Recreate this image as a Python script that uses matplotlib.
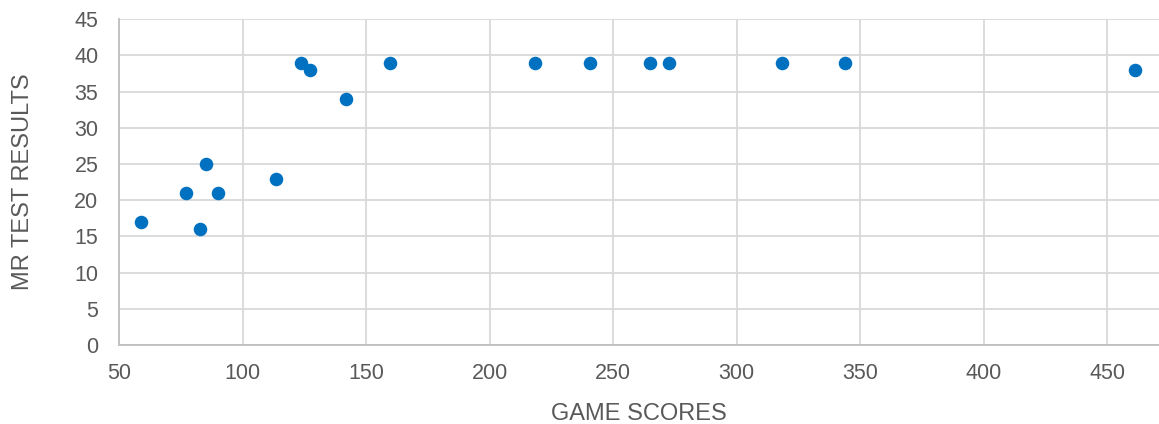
import matplotlib.pyplot as plt

plt.rcParams['font.family'] = ['Liberation Sans', 'DejaVu Sans']

game_scores = [58.7, 76.9, 82.6, 85.1, 89.9, 113.4, 123.7, 127.1, 141.8, 159.5,
               218.4, 240.8, 264.9, 272.6, 318.5, 343.9, 461.1]
mr_results = [17, 21, 16, 25, 21, 23, 39, 38, 34, 39,
              39, 39, 39, 39, 39, 39, 38]

fig = plt.figure(figsize=(11.59, 4.24), dpi=100)
ax = fig.add_axes([0.1029, 0.1863, 0.8971, 0.7682])

ax.scatter(game_scores, mr_results, s=95, color='#0070C0', zorder=3, linewidths=0)

ax.set_xlim(50, 471)
ax.set_ylim(0, 45)
ax.set_xticks(range(50, 451, 50))
ax.set_yticks(range(0, 46, 5))
ax.grid(True, color='#d9d9d9', linewidth=1.3)
ax.set_axisbelow(True)

for s in ['top', 'right']:
    ax.spines[s].set_visible(False)
for s in ['left', 'bottom']:
    ax.spines[s].set_color('#bfbfbf')
    ax.spines[s].set_linewidth(1.3)
ax.tick_params(length=0, labelsize=15.5, colors='#595959')
ax.tick_params(axis='y', pad=15)
ax.tick_params(axis='x', pad=13)

ax.set_xlabel('GAME SCORES', fontsize=17, color='#595959')
ax.set_ylabel('MR TEST RESULTS', fontsize=17, color='#595959')
ax.xaxis.set_label_coords(0.5, -0.178)
ax.yaxis.set_label_coords(-0.0817, 0.5)

fig.savefig('out.png')
